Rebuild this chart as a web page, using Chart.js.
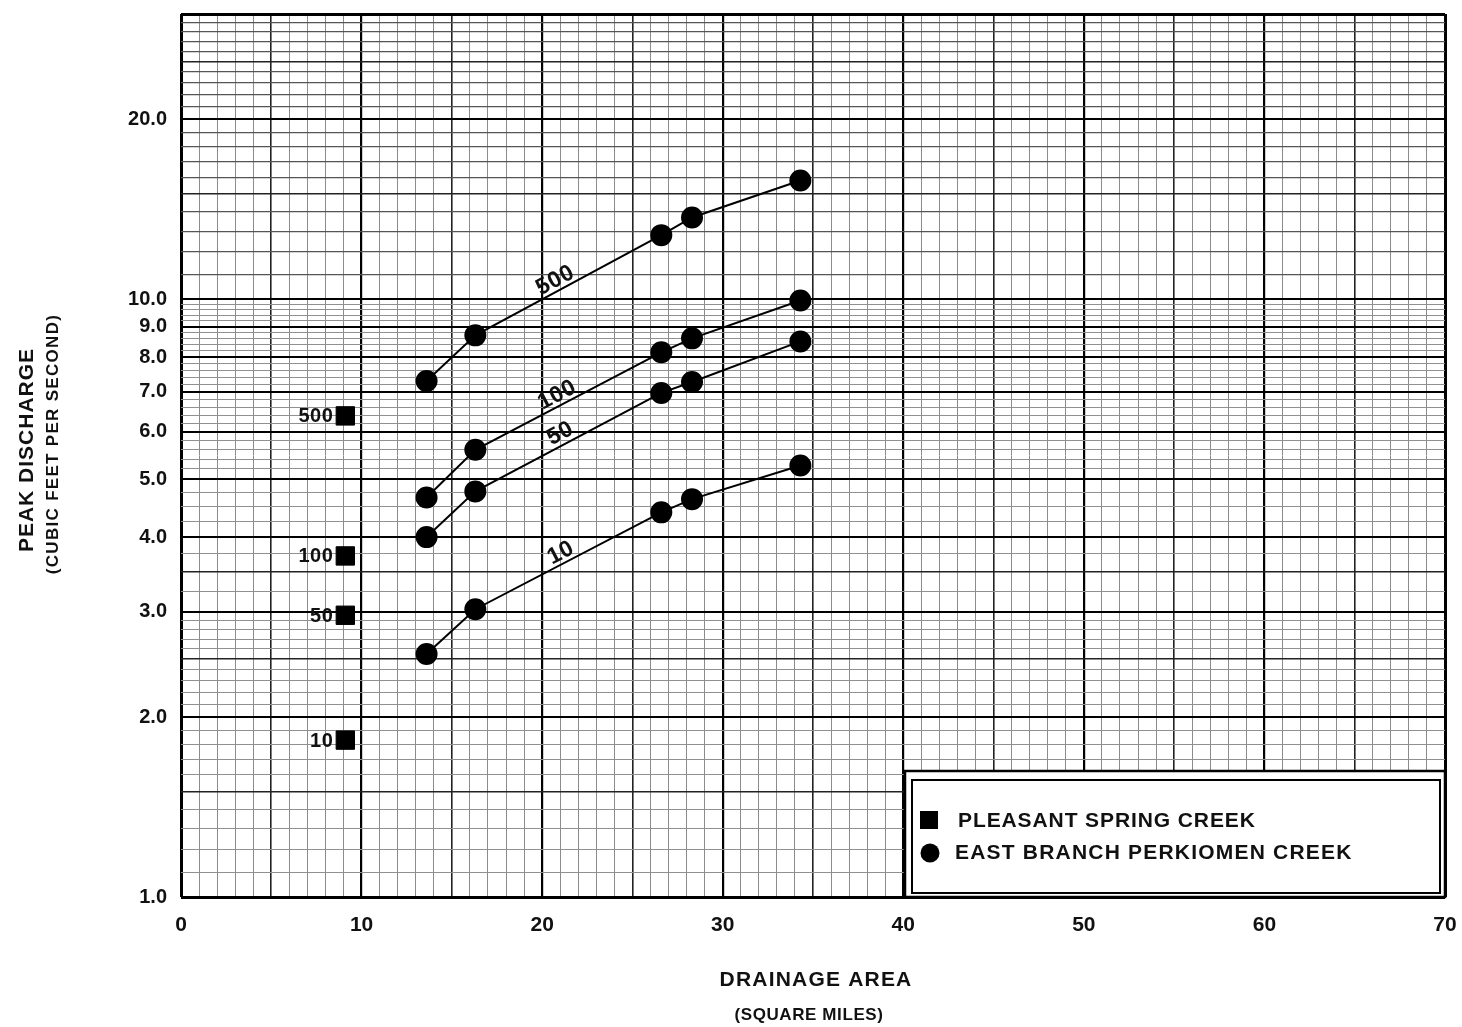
<!DOCTYPE html>
<html>
<head>
<meta charset="utf-8">
<script src="https://cdn.jsdelivr.net/npm/chart.js@4/dist/chart.umd.min.js"></script>
<style>
html,body{margin:0;padding:0;background:#fff}
canvas{display:block}
</style>
</head>
<body>
<canvas id="chart" width="1462" height="1027"></canvas>
<script>
// drainage area (sq mi) of the East Branch Perkiomen Creek sites
const areaEast = [13.6, 16.3, 26.6, 28.3, 34.3];
// peak discharge per recurrence interval (years)
const q500 = [7.3, 8.7, 12.8, 13.7, 15.8];
const q100 = [4.66, 5.6, 8.15, 8.6, 9.95];
const q50 = [4.0, 4.77, 6.97, 7.27, 8.5];
const q10 = [2.55, 3.03, 4.4, 4.63, 5.27];
// Pleasant Spring Creek, single site
const areaPleasant = [9.1, 9.1, 9.1, 9.1];
const qPleasant = [6.38, 3.72, 2.96, 1.83];
const pleasantNames = ['500', '100', '50', '10'];
// axes
const xLabels = [0, 10, 20, 30, 40, 50, 60, 70];
const yLabels = [1, 2, 3, 4, 5, 6, 7, 8, 9, 10, 20];

const FONT = '"Liberation Sans", Arial, Helvetica, sans-serif';

// graph paper lines
const xGrid = [];
for (let i = 0; i <= 70; i++) xGrid.push(i);
const yGrid = [];
for (let i = 10; i <= 30; i++) yGrid.push(i / 10);
for (let i = 13; i <= 20; i++) yGrid.push(i / 4);
for (let i = 26; i <= 50; i++) yGrid.push(i / 5);
for (let i = 11; i <= 30; i++) yGrid.push(i);
const yTicks = [...new Set(yGrid)].sort((a, b) => a - b);

function xStyle(v){
  if (v === 0 || v === 70) return [3, '#000'];
  if (v % 10 === 0) return [2.2, '#000'];
  if (v % 5 === 0) return [1.6, '#222'];
  return [1, '#8c8c8c'];
}
function yStyle(v){
  if (v === 1 || v === 30) return [3, '#000'];
  if (yLabels.includes(v)) return [2, '#000'];
  if ([1.5, 2.5, 3.5, 15, 25].includes(v)) return [1.6, '#222'];
  if (v > 10) return [1.2, '#555'];
  return [1, '#909090'];
}

const mk = (lab, ys) => ({
  label: lab,
  data: areaEast.map((x, i) => ({x, y: ys[i]})),
  showLine: true, tension: 0,
  borderColor: '#000', borderWidth: 2, backgroundColor: '#000',
  pointStyle: 'circle', pointRadius: 10, pointHoverRadius: 10
});

function onLine(chart, ys, xv, text, off){
  const sx = chart.scales.x, sy = chart.scales.y, c = chart.ctx;
  let i = 0; while (i < areaEast.length - 2 && areaEast[i + 1] < xv) i++;
  const x1 = sx.getPixelForValue(areaEast[i]), y1 = sy.getPixelForValue(ys[i]);
  const x2 = sx.getPixelForValue(areaEast[i + 1]), y2 = sy.getPixelForValue(ys[i + 1]);
  const px = sx.getPixelForValue(xv), py = y1 + (px - x1) / (x2 - x1) * (y2 - y1);
  c.save(); c.translate(px, py); c.rotate(Math.atan2(y2 - y1, x2 - x1));
  c.textAlign = 'center'; c.textBaseline = 'alphabetic';
  c.fillText(text, 0, -off); c.restore();
}

function txt(c, s, x, y, font, ls, align){
  c.font = font; c.letterSpacing = ls || '0px';
  c.textAlign = align || 'center'; c.textBaseline = 'middle';
  c.fillText(s, x, y); c.letterSpacing = '0px';
}

// keep the plot frame where the paper has it
function fixPad(s){ s.paddingLeft = s.paddingRight = s.paddingTop = s.paddingBottom = 0; }

const decor = {
  id: 'decor',
  afterDatasetsDraw(chart){
    const c = chart.ctx, sx = chart.scales.x, sy = chart.scales.y;
    c.save(); c.fillStyle = '#111';
    c.font = 'bold 23px ' + FONT; c.letterSpacing = '0.5px';
    onLine(chart, q500, 21.0, '500', 4);
    onLine(chart, q100, 21.1, '100', 4);
    onLine(chart, q50, 21.3, '50', 5);
    onLine(chart, q10, 21.3, '10', 4);
    c.letterSpacing = '0px';
    pleasantNames.forEach((n, i) => {
      txt(c, n, sx.getPixelForValue(areaPleasant[i]) - 12, sy.getPixelForValue(qPleasant[i]) + 1, 'bold 20px ' + FONT, '0.5px', 'right');
    });
    c.restore();
  },
  afterDraw(chart){
    const c = chart.ctx, a = chart.chartArea;
    c.save();
    // legend box
    const L = a.right - 540, T = a.bottom - 126;
    c.fillStyle = '#fff'; c.fillRect(L, T, 540, 126);
    c.strokeStyle = '#000'; c.lineWidth = 2.5; c.strokeRect(L, T, 540, 126);
    c.lineWidth = 2; c.strokeRect(L + 7, T + 9, 528, 113);
    c.fillStyle = '#000';
    c.fillRect(L + 15, T + 40, 18, 18);
    c.beginPath(); c.arc(L + 25, T + 82, 9.5, 0, Math.PI * 2); c.fill();
    c.fillStyle = '#111';
    txt(c, 'PLEASANT SPRING CREEK', L + 53, T + 50, 'bold 21px ' + FONT, '0.9px', 'left');
    txt(c, 'EAST BRANCH PERKIOMEN CREEK', L + 50, T + 82, 'bold 21px ' + FONT, '1.2px', 'left');
    // axis titles
    const cx = (a.left + a.right) / 2;
    txt(c, 'DRAINAGE AREA', cx + 3, 980, 'bold 21px ' + FONT, '1.2px');
    txt(c, '(SQUARE MILES)', cx - 4, 1015, 'bold 17px ' + FONT, '0.6px');
    c.save(); c.translate(27, 450); c.rotate(-Math.PI / 2);
    txt(c, 'PEAK DISCHARGE', 0, 0, 'bold 21px ' + FONT, '1px');
    c.restore();
    c.save(); c.translate(53, 444); c.rotate(-Math.PI / 2);
    txt(c, '(CUBIC FEET PER SECOND)', 0, 0, 'bold 17px ' + FONT, '1.3px');
    c.restore();
    c.restore();
  }
};

new Chart(document.getElementById('chart'), {
  type: 'scatter',
  data: {
    datasets: [
      {
        label: 'PLEASANT SPRING CREEK',
        data: areaPleasant.map((x, i) => ({x, y: qPleasant[i]})),
        showLine: false, pointStyle: 'rect', pointRadius: 13, pointHoverRadius: 13,
        backgroundColor: '#000', borderColor: '#000'
      },
      mk('500', q500), mk('100', q100), mk('50', q50), mk('10', q10)
    ]
  },
  options: {
    responsive: false, animation: false, devicePixelRatio: 1,
    layout: {padding: {top: 9, right: 17, left: 0, bottom: 0}},
    plugins: {legend: {display: false}, tooltip: {enabled: false}},
    scales: {
      x: {
        type: 'linear', min: 0, max: 70,
        afterBuildTicks: s => { s.ticks = xGrid.map(v => ({value: v})); },
        afterFit: s => { s.height = 130; fixPad(s); },
        border: {display: false},
        grid: {drawTicks: false, color: c => xStyle(c.tick.value)[1], lineWidth: c => xStyle(c.tick.value)[0]},
        ticks: {autoSkip: false, maxRotation: 0, padding: 16, color: '#111', font: {family: FONT, size: 21, weight: 'bold'},
          callback: v => xLabels.includes(v) ? String(v) : ''}
      },
      y: {
        type: 'logarithmic', min: 1, max: 30,
        afterBuildTicks: s => { s.ticks = yTicks.map(v => ({value: v})); },
        afterFit: s => { s.width = 181; fixPad(s); },
        border: {display: false},
        grid: {drawTicks: false, color: c => yStyle(c.tick.value)[1], lineWidth: c => yStyle(c.tick.value)[0]},
        ticks: {autoSkip: false, padding: 14, color: '#111', font: {family: FONT, size: 20, weight: 'bold'},
          callback: v => yLabels.includes(v) ? v.toFixed(1) : ''}
      }
    }
  },
  plugins: [decor]
});
</script>
</body>
</html>
